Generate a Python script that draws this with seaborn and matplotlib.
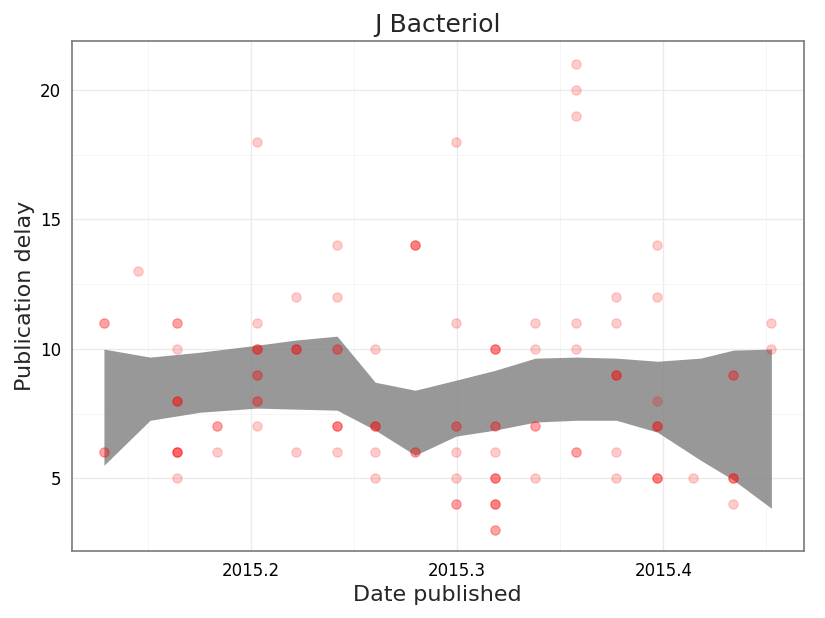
import matplotlib
matplotlib.use("Agg")
import matplotlib.pyplot as plt
import seaborn as sns
import pandas as pd

# publication dates (column positions) and delays
dates = [2015.1286, 2015.1451, 2015.1641, 2015.1835, 2015.2029, 2015.2218,
         2015.2417, 2015.2602, 2015.2796, 2015.2995, 2015.3184, 2015.3379,
         2015.3578, 2015.3772, 2015.3971, 2015.4146, 2015.4340, 2015.4524]
delays = [
    [11, 11, 6, 6],
    [13],
    [11, 11, 10, 8, 8, 8, 6, 6, 6, 6, 5],
    [7, 7, 6],
    [18, 11, 10, 10, 10, 9, 9, 8, 8, 7],
    [12, 10, 10, 10, 6],
    [14, 12, 10, 10, 7, 7, 7, 6],
    [10, 7, 7, 7, 6, 5],
    [14, 14, 14, 6, 6],
    [18, 11, 7, 7, 6, 5, 4, 4],
    [10, 10, 10, 7, 7, 6, 5, 5, 5, 4, 4, 4, 3, 3],
    [11, 10, 7, 7, 5],
    [21, 20, 19, 11, 10, 6, 6],
    [12, 11, 9, 9, 9, 6, 5],
    [14, 12, 8, 7, 7, 7, 5, 5, 5],
    [5],
    [9, 9, 5, 5, 5, 4],
    [11, 10],
]

# smoother confidence band
band_x = [2015.1286, 2015.151, 2015.1752, 2015.2029, 2015.2218, 2015.2417,
          2015.2602, 2015.2796, 2015.2995, 2015.3184, 2015.3379, 2015.3578,
          2015.3772, 2015.3971, 2015.418, 2015.4340, 2015.4524]
band_hi = [9.99, 9.68, 9.87, 10.14, 10.34, 10.49, 8.71, 8.40, 8.79, 9.17,
           9.64, 9.68, 9.64, 9.52, 9.64, 9.95, 9.99]
band_lo = [5.50, 7.24, 7.55, 7.71, 7.67, 7.63, 6.86, 5.89, 6.63, 6.86,
           7.17, 7.24, 7.24, 6.78, 5.70, 4.93, 3.84]

rows = [(d, v) for d, vals in zip(dates, delays) for v in vals]
df = pd.DataFrame(rows, columns=["date", "delay"])

sns.set_theme(style="whitegrid")
plt.rcParams["font.family"] = ["DejaVu Sans"]
fig, ax = plt.subplots(figsize=(8.25, 6.18), dpi=100)

sns.scatterplot(data=df, x="date", y="delay", color="red", alpha=0.2,
                s=45, edgecolor="red", linewidth=0.8, ax=ax, zorder=3)
ax.fill_between(band_x, band_lo, band_hi, color="#7f7f7f", alpha=0.8,
                linewidth=0, zorder=2)

ax.set_xlim(2015.113, 2015.468)
ax.set_ylim(2.18, 21.9)
ax.set_xticks([2015.2, 2015.3, 2015.4])
ax.set_xticklabels(["2015.2", "2015.3", "2015.4"])
ax.set_yticks([5, 10, 15, 20])
ax.set_xticks([2015.15, 2015.25, 2015.35, 2015.45], minor=True)
ax.set_yticks([7.5, 12.5, 17.5], minor=True)
ax.grid(which="major", color="#ebebeb", linewidth=1)
ax.grid(which="minor", color="#f4f4f4", linewidth=0.6)
for s in ax.spines.values():
    s.set_color("#7f7f7f")
    s.set_visible(True)
ax.tick_params(labelsize=12, colors="black", length=4, which="major")
ax.tick_params(which="minor", length=0)
ax.set_xlabel("Date published", fontsize=16)
ax.set_ylabel("Publication delay", fontsize=16)
ax.set_title("J Bacteriol", fontsize=18)

plt.subplots_adjust(left=0.087, right=0.974, top=0.934, bottom=0.108)
plt.savefig("out.png", dpi=100)
